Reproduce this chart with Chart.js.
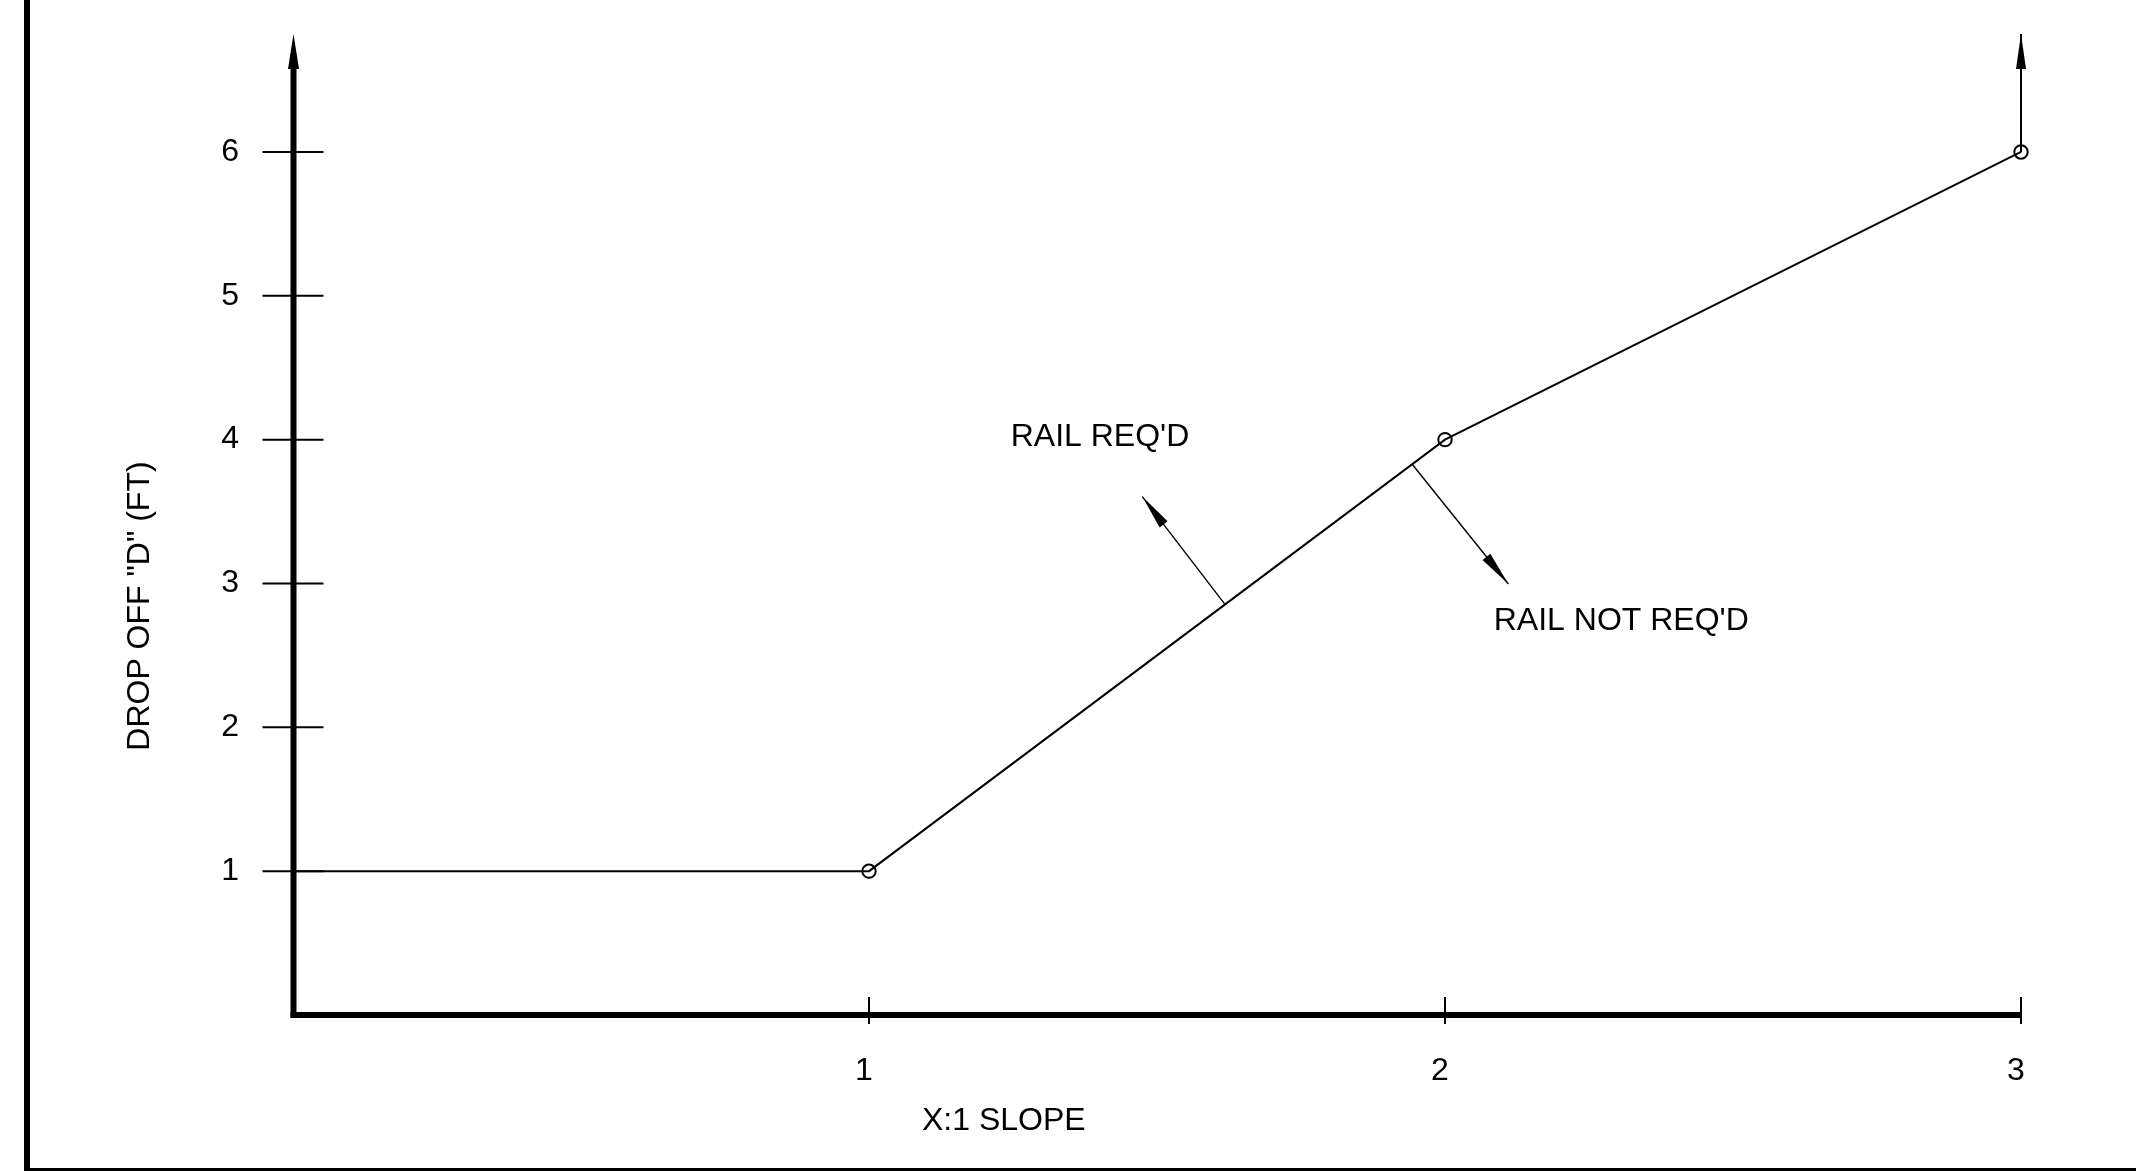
<!DOCTYPE html>
<html><head><meta charset="utf-8">
<script src="https://cdn.jsdelivr.net/npm/chart.js@4"></script>
<style>html,body{margin:0;padding:0;background:#fff;overflow:hidden}canvas{display:block}</style>
</head><body>
<canvas id="c" width="2136" height="1171"></canvas>
<script>
// ---- data ----
const slopeX = [0, 1, 2, 3];
const dropOffD = [1, 1, 4, 6];
const xTickValues = [1, 2, 3];
const yTickValues = [1, 2, 3, 4, 5, 6];
const xMin = 0, xMax = 3;
const yMin = 0, yMax = 6.82;
// annotation arrows (data units: start -> tip)
const reqArrowX = [1.618, 1.4745];
const reqArrowY = [2.855, 3.604];
const notReqArrowX = [1.943, 2.110];
const notReqArrowY = [3.829, 2.996];
const limitArrowX = [3, 3];
const limitArrowY = [6, 6.82];
// annotation texts (data units)
const noteLabels = ["RAIL REQ'D", "RAIL NOT REQ'D"];
const noteX = [1.401, 2.306];
const noteY = [4.018, 2.739];
const xTitle = "X:1 SLOPE";
const yTitle = 'DROP OFF "D" (FT)';
const xTitleAt = 1.234;   // data x where x title is centred
const yTitleAt = 2.843;   // data y where y title is centred

const FONT = "'Liberation Sans', Arial, Helvetica, sans-serif";
Chart.defaults.font.family = FONT;
Chart.defaults.color = '#000';

const pts = (xs, ys) => xs.map((v, i) => ({x: v, y: ys[i]}));

function arrowHead(ctx, fx, fy, tx, ty, len, hw) {
  const ang = Math.atan2(ty - fy, tx - fx);
  ctx.save();
  ctx.translate(tx, ty);
  ctx.rotate(ang);
  ctx.beginPath();
  ctx.moveTo(0, 0);
  ctx.lineTo(-len, hw);
  ctx.lineTo(-len, -hw);
  ctx.closePath();
  ctx.fill();
  ctx.restore();
}

const cadPlugin = {
  id: 'cad',
  afterDatasetsDraw(chart) {
    const {ctx, chartArea: a, scales: {x, y}} = chart;
    ctx.save();
    ctx.strokeStyle = '#000';
    ctx.fillStyle = '#000';
    ctx.lineCap = 'butt';
    // drawing frame
    ctx.lineWidth = 6;
    ctx.beginPath();
    ctx.moveTo(27, 0); ctx.lineTo(27, chart.height);
    ctx.moveTo(24, chart.height); ctx.lineTo(chart.width, chart.height);
    ctx.stroke();
    // axes
    const x0 = x.getPixelForValue(xMin) + 0.5;
    const y0 = y.getPixelForValue(yMin);
    ctx.beginPath();
    ctx.moveTo(x0, y0 + 3); ctx.lineTo(x0, a.top + 20);
    ctx.stroke();
    ctx.beginPath();
    ctx.moveTo(x0 - 3, y0); ctx.lineTo(x.getPixelForValue(xMax), y0);
    ctx.stroke();
    arrowHead(ctx, x0, a.top + 40, x0, a.top, 35, 5.5);
    // tick marks
    ctx.lineWidth = 2;
    yTickValues.forEach(v => {
      const p = y.getPixelForValue(v);
      ctx.beginPath(); ctx.moveTo(x0 - 31, p); ctx.lineTo(x0 + 30, p); ctx.stroke();
    });
    xTickValues.forEach(v => {
      const p = x.getPixelForValue(v);
      ctx.beginPath(); ctx.moveTo(p, y0 - 18); ctx.lineTo(p, y0 + 9); ctx.stroke();
    });
    // arrow heads on arrow datasets
    chart.data.datasets.forEach((ds, i) => {
      if (!ds.arrow) return;
      const el = chart.getDatasetMeta(i).data;
      const p1 = el[el.length - 2], p2 = el[el.length - 1];
      arrowHead(ctx, p1.x, p1.y, p2.x, p2.y, 35, 5);
    });
    // texts
    ctx.font = '32px ' + FONT;
    ctx.textAlign = 'center';
    ctx.textBaseline = 'middle';
    noteLabels.forEach((t, i) => {
      ctx.fillText(t, x.getPixelForValue(noteX[i]), y.getPixelForValue(noteY[i]));
    });
    ctx.fillText(xTitle, x.getPixelForValue(xTitleAt), y0 + 106);
    ctx.save();
    ctx.translate(x0 - 153, y.getPixelForValue(yTitleAt));
    ctx.rotate(-Math.PI / 2);
    ctx.fillText(yTitle, 0, 0);
    ctx.restore();
    ctx.restore();
  }
};

new Chart(document.getElementById('c'), {
  type: 'scatter',
  data: {
    datasets: [
      {
        data: pts(slopeX, dropOffD),
        showLine: true,
        borderColor: '#000',
        borderWidth: 2,
        pointRadius: c => (c.dataIndex === 0 ? 0 : 6.7),
        pointBorderColor: '#000',
        pointBackgroundColor: 'rgba(0,0,0,0)',
        pointBorderWidth: 2,
        clip: false
      },
      { data: pts(reqArrowX, reqArrowY), showLine: true, borderColor: '#000', borderWidth: 1.4, pointRadius: 0, clip: false, arrow: true },
      { data: pts(notReqArrowX, notReqArrowY), showLine: true, borderColor: '#000', borderWidth: 1.4, pointRadius: 0, clip: false, arrow: true },
      { data: pts(limitArrowX, limitArrowY), showLine: true, borderColor: '#000', borderWidth: 2, pointRadius: 0, clip: false, arrow: true }
    ]
  },
  options: {
    responsive: false,
    animation: false,
    devicePixelRatio: 1,
    layout: { padding: { left: 0, right: 115, top: 34, bottom: 0 } },
    plugins: { legend: { display: false }, tooltip: { enabled: false } },
    scales: {
      x: {
        type: 'linear', min: xMin, max: xMax,
        afterBuildTicks: s => { s.ticks = xTickValues.map(v => ({value: v})); },
        afterFit: s => { s.height = 156; s.paddingLeft = 0; s.paddingRight = 0; s.paddingTop = 0; s.paddingBottom = 0; },
        grid: { display: false, drawTicks: false },
        border: { display: false },
        ticks: { font: { size: 32 }, color: '#000', padding: 37, labelOffset: -5, maxRotation: 0 }
      },
      y: {
        type: 'linear', min: yMin, max: yMax,
        afterBuildTicks: s => { s.ticks = yTickValues.map(v => ({value: v})); },
        afterFit: s => { s.width = 293; s.paddingTop = 0; s.paddingBottom = 0; s.paddingLeft = 0; s.paddingRight = 0; },
        grid: { display: false, drawTicks: false },
        border: { display: false },
        ticks: { font: { size: 32 }, color: '#000', padding: 54 }
      }
    }
  },
  plugins: [cadPlugin]
});
</script>
</body></html>
